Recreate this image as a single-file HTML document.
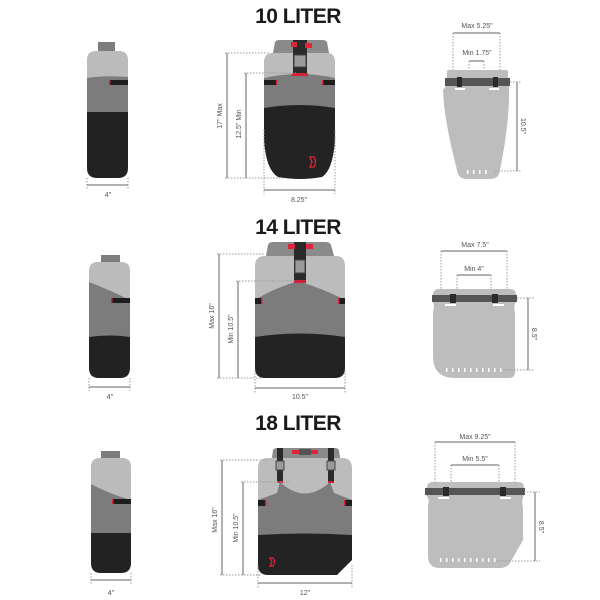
<!DOCTYPE html>
<html><head><style>
html,body{margin:0;padding:0;background:#fff;}
svg{display:block;}
text{font-family:"Liberation Sans",sans-serif;fill:#555;}
.t{font-family:"Liberation Sans",sans-serif;font-weight:bold;fill:#1a1a1a;font-size:21px;letter-spacing:-0.5px;}
.d{stroke:#666;stroke-width:1;fill:none;}
.x{stroke:#999;stroke-width:1;stroke-dasharray:1.5 1.5;fill:none;}
</style></head><body>
<svg width="600" height="600" viewBox="0 0 600 600" xmlns="http://www.w3.org/2000/svg">
<rect width="600" height="600" fill="#fff"/>
<!-- Titles -->
<text class="t" x="298" y="23" text-anchor="middle">10 LITER</text>
<text class="t" x="298" y="234" text-anchor="middle">14 LITER</text>
<text class="t" x="298" y="430" text-anchor="middle">18 LITER</text>

<!-- ===== LEFT SIDE VIEWS ===== -->
<g>
<rect x="98" y="42" width="17" height="10" fill="#7d7d7d"/>
<path d="M87 60 Q87 51 96 51 L119 51 Q128 51 128 60 L128 78 L87 78Z" fill="#bbb"/>
<path d="M87 78 Q105 75 128 77 L128 112 L87 112Z" fill="#7c7c7c"/>
<path d="M87 112 L128 112 L128 168 Q128 178 118 178 L97 178 Q87 178 87 168Z" fill="#222"/>
<rect x="110" y="80" width="18" height="5" fill="#1d1d1d"/><rect x="109" y="80" width="1.5" height="5" fill="#d0233a"/>
<line class="x" x1="87" y1="178" x2="87" y2="189"/><line class="x" x1="128" y1="178" x2="128" y2="189"/>
<line class="d" x1="87" y1="185" x2="128" y2="185"/>
<text x="108" y="197" font-size="7" text-anchor="middle">4"</text>
</g>
<g>
<rect x="101" y="255" width="19" height="8" fill="#7d7d7d"/>
<path d="M89 271 Q89 262 98 262 L121 262 Q130 262 130 271 L130 300 Q110 290 89 282Z" fill="#bbb"/>
<path d="M89 282 Q110 290 130 300 L130 337 L89 337Z" fill="#7c7c7c"/>
<path d="M89 337 Q110 334 130 337 L130 368 Q130 378 120 378 L99 378 Q89 378 89 368Z" fill="#222"/>
<rect x="112" y="298" width="18" height="5" fill="#1d1d1d"/><rect x="111" y="298" width="1.5" height="5" fill="#d0233a"/>
<line class="x" x1="89" y1="378" x2="89" y2="391"/><line class="x" x1="130" y1="378" x2="130" y2="391"/>
<line class="d" x1="89" y1="387" x2="130" y2="387"/>
<text x="110" y="399" font-size="7" text-anchor="middle">4"</text>
</g>
<g>
<rect x="101" y="451" width="19" height="8" fill="#7d7d7d"/>
<path d="M91 467 Q91 458 100 458 L122 458 Q131 458 131 467 L131 500 Q110 494 91 484Z" fill="#bbb"/>
<path d="M91 484 Q110 494 131 500 L131 533 L91 533Z" fill="#7c7c7c"/>
<path d="M91 533 L131 533 L131 563 Q131 573 121 573 L101 573 Q91 573 91 563Z" fill="#222"/>
<rect x="113" y="499" width="18" height="5" fill="#1d1d1d"/><rect x="112" y="499" width="1.5" height="5" fill="#d0233a"/>
<line class="x" x1="91" y1="573" x2="91" y2="584"/><line class="x" x1="131" y1="573" x2="131" y2="584"/>
<line class="d" x1="91" y1="580" x2="131" y2="580"/>
<text x="111" y="595" font-size="7" text-anchor="middle">4"</text>
</g>

<!-- ===== MIDDLE FRONT VIEWS ===== -->
<!-- 10L -->
<g>
<path d="M273 53 L275 42 Q276 40 280 40 L322 40 Q326 40 327 42 L329 53Z" fill="#8a8a8a"/>
<path d="M264 62 Q264 53 273 53 L327 53 Q335 53 335 62 L335 78 L264 78Z" fill="#bcbcbc"/>
<path d="M264 78 Q300 70 335 78 L335 108 L264 108Z" fill="#7c7c7c"/>
<path d="M264 108 Q300 102 335 108 L335 140 Q333 170 322 177 Q300 181 278 177 Q266 170 264 140Z" fill="#232323"/>
<rect x="293" y="40" width="14" height="35" fill="#2a2a2a"/>
<rect x="294" y="55" width="12" height="12" fill="#9a9a9a" stroke="#444"/>
<rect x="292" y="73" width="16" height="3" fill="#d0233a"/>
<rect x="291" y="42" width="6" height="5" fill="#e0243c"/><rect x="305" y="43" width="7" height="5" fill="#e0243c"/>
<rect x="264" y="80" width="12" height="5" fill="#1d1d1d"/><rect x="276" y="80" width="1.5" height="5" fill="#d0233a"/>
<rect x="323" y="80" width="12" height="5" fill="#1d1d1d"/><rect x="322" y="80" width="1.5" height="5" fill="#d0233a"/>
<path d="M310 157 l4 0 q3 5 0 10 l-4 0 l2 -5z" fill="none" stroke="#e0243c" stroke-width="1.3"/>
<line class="x" x1="225" y1="53" x2="270" y2="53"/><line class="x" x1="244" y1="73" x2="296" y2="73"/>
<line class="x" x1="225" y1="178" x2="285" y2="178"/>
<line class="d" x1="227" y1="53" x2="227" y2="178"/><line class="d" x1="246" y1="73" x2="246" y2="178"/>
<text font-size="7" transform="translate(222,116) rotate(-90)" text-anchor="middle">17" Max</text>
<text font-size="7" transform="translate(241,124) rotate(-90)" text-anchor="middle">12.5" Min</text>
<line class="x" x1="264" y1="130" x2="264" y2="194"/><line class="x" x1="335" y1="130" x2="335" y2="194"/>
<line class="d" x1="264" y1="190" x2="335" y2="190"/>
<text x="299" y="202" font-size="7" text-anchor="middle">8.25"</text>
</g>
<!-- 14L -->
<g>
<path d="M266 256 L268 245 Q269 242 273 242 L326 242 Q330 242 331 245 L334 256Z" fill="#8a8a8a"/>
<path d="M255 266 Q255 256 265 256 L336 256 Q345 256 345 266 L345 300 L255 300Z" fill="#bcbcbc"/>
<path d="M255 300 Q270 290 298 281 Q326 290 345 300 L345 337 L255 337Z" fill="#7c7c7c"/>
<path d="M255 337 Q300 330 345 337 L345 368 Q345 378 335 378 L265 378 Q255 378 255 368Z" fill="#232323"/>
<rect x="294" y="242" width="12" height="40" fill="#2a2a2a"/>
<rect x="295" y="260" width="10" height="13" fill="#9a9a9a" stroke="#444"/>
<rect x="294" y="280" width="12" height="3" fill="#d0233a"/>
<rect x="288" y="244" width="7" height="5" fill="#e0243c"/><rect x="306" y="244" width="7" height="5" fill="#e0243c"/>
<rect x="255" y="298" width="6" height="6" fill="#1d1d1d"/><rect x="261" y="298" width="1.5" height="6" fill="#d0233a"/>
<rect x="339" y="298" width="6" height="6" fill="#1d1d1d"/><rect x="338" y="298" width="1.5" height="6" fill="#d0233a"/>
<line class="x" x1="217" y1="254" x2="265" y2="254"/><line class="x" x1="236" y1="281" x2="296" y2="281"/>
<line class="x" x1="217" y1="378" x2="262" y2="378"/>
<line class="d" x1="219" y1="254" x2="219" y2="378"/><line class="d" x1="238" y1="281" x2="238" y2="378"/>
<text font-size="7" transform="translate(214,316) rotate(-90)" text-anchor="middle">Max 16"</text>
<text font-size="7" transform="translate(233,329) rotate(-90)" text-anchor="middle">Min 10.5"</text>
<line class="x" x1="255" y1="370" x2="255" y2="393"/><line class="x" x1="345" y1="370" x2="345" y2="393"/>
<line class="d" x1="255" y1="388" x2="345" y2="388"/>
<text x="300" y="399" font-size="7" text-anchor="middle">10.5"</text>
</g>
<!-- 18L -->
<g>
<path d="M272 458 L273 450 Q274 448 278 448 L334 448 Q338 448 339 450 L340 458Z" fill="#8a8a8a"/>
<path d="M258 468 Q258 458 268 458 L342 458 Q352 458 352 468 L352 500 L258 500Z" fill="#bcbcbc"/>
<path d="M258 500 L277 493 L280 482 Q305 505 330 482 L334 493 L352 500 L352 535 L258 535Z" fill="#7c7c7c"/>
<path d="M258 535 Q305 532 352 535 L352 560 L337 575 L268 575 Q258 575 258 565Z" fill="#232323"/>
<rect x="277" y="448" width="6" height="35" fill="#2a2a2a"/><rect x="328" y="448" width="6" height="35" fill="#2a2a2a"/>
<rect x="276" y="461" width="8" height="9" fill="#9a9a9a" stroke="#444"/><rect x="327" y="461" width="8" height="9" fill="#9a9a9a" stroke="#444"/>
<rect x="277" y="481" width="6" height="2" fill="#d0233a"/><rect x="328" y="481" width="6" height="2" fill="#d0233a"/>
<rect x="292" y="450" width="7" height="4" fill="#e0243c"/><rect x="311" y="450" width="7" height="4" fill="#e0243c"/>
<rect x="299" y="449" width="12" height="6" fill="#555"/>
<rect x="258" y="500" width="7" height="6" fill="#1d1d1d"/><rect x="265" y="500" width="1.5" height="6" fill="#d0233a"/>
<rect x="345" y="500" width="7" height="6" fill="#1d1d1d"/><rect x="344" y="500" width="1.5" height="6" fill="#d0233a"/>
<path d="M270 558 l3 0 q3 4 0 8 l-3 0 l2 -4z" fill="none" stroke="#e0243c" stroke-width="1.2"/>
<line class="x" x1="220" y1="460" x2="268" y2="460"/><line class="x" x1="241" y1="482" x2="290" y2="482"/>
<line class="x" x1="220" y1="575" x2="262" y2="575"/>
<line class="d" x1="222" y1="460" x2="222" y2="575"/><line class="d" x1="243" y1="482" x2="243" y2="575"/>
<text font-size="7" transform="translate(217,520) rotate(-90)" text-anchor="middle">Max 16"</text>
<text font-size="7" transform="translate(238,528) rotate(-90)" text-anchor="middle">Min 10.5"</text>
<line class="x" x1="258" y1="565" x2="258" y2="588"/><line class="x" x1="352" y1="565" x2="352" y2="588"/>
<line class="d" x1="258" y1="583" x2="352" y2="583"/>
<text x="305" y="595" font-size="7" text-anchor="middle">12"</text>
</g>

<!-- ===== RIGHT TOP VIEWS ===== -->
<!-- 10L -->
<g>
<text x="477" y="28" font-size="7" text-anchor="middle">Max 5.25"</text>
<line class="d" x1="453" y1="33" x2="500" y2="33"/>
<line class="x" x1="453" y1="33" x2="453" y2="80"/><line class="x" x1="500" y1="33" x2="500" y2="80"/>
<text x="477" y="55" font-size="7" text-anchor="middle">Min 1.75"</text>
<line class="d" x1="469" y1="61" x2="484" y2="61"/>
<line class="x" x1="469" y1="61" x2="469" y2="80"/><line class="x" x1="484" y1="61" x2="484" y2="80"/>
<path d="M447 72 Q447 70 449 70 L506 70 Q508 70 508 72 L508 78 L447 78Z" fill="#bdbdbd"/>
<path d="M446 86 L509 86 Q510 120 500 170 Q499 179 490 179 L467 179 Q458 179 457 170 Q444 120 443 90Z" fill="#bdbdbd"/>
<rect x="445" y="78" width="65" height="8" fill="#555"/>
<rect x="457" y="77" width="5" height="10" fill="#2a2a2a"/><rect x="493" y="77" width="5" height="10" fill="#2a2a2a"/>
<rect x="455" y="88" width="10" height="2" fill="#fff"/><rect x="489" y="88" width="10" height="2" fill="#fff"/>
<g fill="#fff"><rect x="467" y="170" width="1.5" height="4"/><rect x="473" y="170" width="1.5" height="4"/><rect x="479" y="170" width="1.5" height="4"/><rect x="485" y="170" width="1.5" height="4"/></g>
<line class="x" x1="510" y1="82" x2="522" y2="82"/><line class="x" x1="495" y1="171" x2="522" y2="171"/>
<line class="d" x1="517" y1="82" x2="517" y2="171"/>
<text font-size="7" transform="translate(521,126) rotate(90)" text-anchor="middle">10.5"</text>
</g>
<!-- 14L -->
<g>
<text x="475" y="247" font-size="7" text-anchor="middle">Max 7.5"</text>
<line class="d" x1="441" y1="251" x2="507" y2="251"/>
<line class="x" x1="441" y1="251" x2="441" y2="292"/><line class="x" x1="507" y1="251" x2="507" y2="292"/>
<text x="474" y="271" font-size="7" text-anchor="middle">Min 4"</text>
<line class="d" x1="457" y1="275" x2="491" y2="275"/>
<line class="x" x1="457" y1="275" x2="457" y2="292"/><line class="x" x1="491" y1="275" x2="491" y2="292"/>
<path d="M433 295 Q433 289 439 289 L510 289 Q516 289 516 295Z" fill="#bdbdbd"/>
<path d="M433 302 L516 302 Q513 306 515 312 L515 372 Q515 378 509 378 L455 378 Q433 378 433 356 L433 312 Q435 306 433 302Z" fill="#bdbdbd"/>
<rect x="432" y="295" width="85" height="7" fill="#555"/>
<rect x="450" y="294" width="6" height="9" fill="#2a2a2a"/><rect x="492" y="294" width="6" height="9" fill="#2a2a2a"/>
<rect x="445" y="304" width="11" height="2" fill="#fff"/><rect x="493" y="304" width="11" height="2" fill="#fff"/>
<g fill="#fff"><rect x="446" y="368" width="1.5" height="4"/><rect x="452" y="368" width="1.5" height="4"/><rect x="458" y="368" width="1.5" height="4"/><rect x="464" y="368" width="1.5" height="4"/><rect x="470" y="368" width="1.5" height="4"/><rect x="476" y="368" width="1.5" height="4"/><rect x="482" y="368" width="1.5" height="4"/><rect x="488" y="368" width="1.5" height="4"/><rect x="494" y="368" width="1.5" height="4"/><rect x="500" y="368" width="1.5" height="4"/></g>
<line class="x" x1="517" y1="298" x2="534" y2="298"/><line class="x" x1="505" y1="370" x2="534" y2="370"/>
<line class="d" x1="528" y1="298" x2="528" y2="370"/>
<text font-size="7" transform="translate(532,334) rotate(90)" text-anchor="middle">8.5"</text>
</g>
<!-- 18L -->
<g>
<text x="475" y="439" font-size="7" text-anchor="middle">Max 9.25"</text>
<line class="d" x1="435" y1="442" x2="515" y2="442"/>
<line class="x" x1="435" y1="442" x2="435" y2="485"/><line class="x" x1="515" y1="442" x2="515" y2="485"/>
<text x="475" y="461" font-size="7" text-anchor="middle">Min 5.5"</text>
<line class="d" x1="451" y1="465" x2="499" y2="465"/>
<line class="x" x1="451" y1="465" x2="451" y2="485"/><line class="x" x1="499" y1="465" x2="499" y2="485"/>
<path d="M427 488 Q427 482 433 482 L518 482 Q524 482 524 488Z" fill="#bdbdbd"/>
<path d="M426 495 L524 495 Q521 500 523 508 L523 540 L510 563 Q507 568 500 568 L440 568 Q428 568 428 556 L428 505 Q430 500 426 495Z" fill="#bdbdbd"/>
<rect x="425" y="488" width="100" height="7" fill="#555"/>
<rect x="443" y="487" width="6" height="9" fill="#2a2a2a"/><rect x="500" y="487" width="6" height="9" fill="#2a2a2a"/>
<rect x="438" y="497" width="11" height="2" fill="#fff"/><rect x="500" y="497" width="11" height="2" fill="#fff"/>
<g fill="#fff"><rect x="440" y="558" width="1.5" height="4"/><rect x="446" y="558" width="1.5" height="4"/><rect x="452" y="558" width="1.5" height="4"/><rect x="458" y="558" width="1.5" height="4"/><rect x="464" y="558" width="1.5" height="4"/><rect x="470" y="558" width="1.5" height="4"/><rect x="476" y="558" width="1.5" height="4"/><rect x="482" y="558" width="1.5" height="4"/><rect x="488" y="558" width="1.5" height="4"/><rect x="494" y="558" width="1.5" height="4"/></g>
<line class="x" x1="524" y1="492" x2="540" y2="492"/><line class="x" x1="497" y1="561" x2="540" y2="561"/>
<line class="d" x1="535" y1="492" x2="535" y2="561"/>
<text font-size="7" transform="translate(539,527) rotate(90)" text-anchor="middle">8.5"</text>
</g>
</svg>
</body></html>
